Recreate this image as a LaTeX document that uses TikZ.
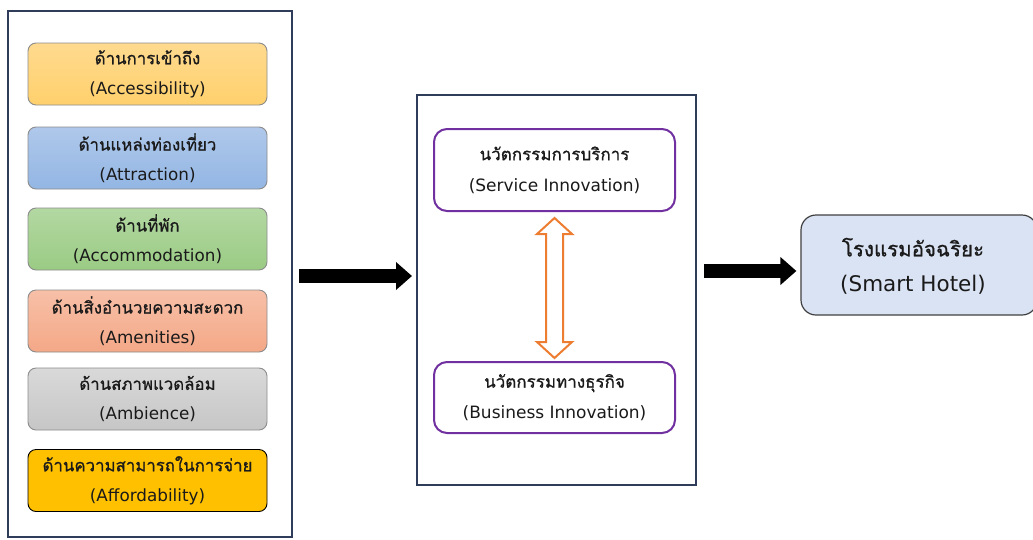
\documentclass[tikz,border=0pt]{standalone}
\usepackage{fontspec}
\setmainfont{DejaVu Sans}
\newfontfamily\thai[Script=Thai,FakeBold=0.9]{Loma}
\usetikzlibrary{arrows.meta,calc}
\definecolor{navy}{HTML}{2F3D5A}
\definecolor{boxgray}{HTML}{8C8C8C}
\definecolor{purp}{HTML}{7030A0}
\definecolor{orng}{HTML}{ED7D31}
\definecolor{hotelfill}{HTML}{DAE3F3}
\definecolor{hotelline}{HTML}{404040}
\definecolor{txt}{HTML}{1A1A1A}
\tikzset{
  frame/.style={draw=navy, line width=2pt, fill=white},
  factor/.style={draw=boxgray, line width=0.9pt, rounded corners=8pt, minimum width=239pt,
    minimum height=62pt, align=center, inner sep=0pt, text=txt,
    font={\fontsize{16.8}{30}\selectfont}},
  innov/.style={draw=purp, line width=2pt, rounded corners=13pt, fill=white, minimum width=241pt,
    align=center, inner sep=0pt, text=txt, font={\fontsize{17}{31}\selectfont}},
  bigarrow/.style={line width=14.5pt, -{Triangle[length=16pt,width=27pt]}},
}
\begin{document}
\begin{tikzpicture}[x=1pt,y=-1pt]
\useasboundingbox (0,0) rectangle (1033,539);
\fill[white] (0,0) rectangle (1033,539);
% left frame
\node[frame, minimum width=284pt, minimum height=526pt, inner sep=0pt] (leftbox) at (150,274) {};
\node[factor, top color={rgb,255:red,255;green,218;blue,143}, bottom color={rgb,255:red,255;green,208;blue,108}] (f1) at (147.5,74) {{\thai ด้านการเข้าถึง}\\(Accessibility)};
\node[factor, top color={rgb,255:red,175;green,200;blue,234}, bottom color={rgb,255:red,147;green,182;blue,228}] (f2) at (147.5,158) {{\thai ด้านแหล่งท่องเที่ยว}\\(Attraction)};
\node[factor, top color={rgb,255:red,179;green,216;blue,162}, bottom color={rgb,255:red,154;green,203;blue,132}] (f3) at (147.5,239) {{\thai ด้านที่พัก}\\(Accommodation)};
\node[factor, top color={rgb,255:red,247;green,192;blue,168}, bottom color={rgb,255:red,244;green,168;blue,135}] (f4) at (147.5,321) {{\thai ด้านสิ่งอำนวยความสะดวก}\\(Amenities)};
\node[factor, top color={rgb,255:red,217;green,217;blue,217}, bottom color={rgb,255:red,198;green,198;blue,198}] (f5) at (147.5,399) {{\thai ด้านสภาพแวดล้อม}\\(Ambience)};
\node[factor, draw=black, fill={rgb,255:red,255;green,192;blue,0}] (f6) at (147.5,480.5) {{\thai ด้านความสามารถในการจ่าย}\\(Affordability)};
% middle frame
\node[frame, minimum width=279pt, minimum height=390pt, inner sep=0pt] (midbox) at (556.5,290) {};
\node[innov, minimum height=82pt] (serv) at (554.5,170) {{\thai นวัตกรรมการบริการ}\\(Service Innovation)};
\node[innov, minimum height=71pt] (bus) at (554.5,397.5) {{\thai นวัตกรรมทางธุรกิจ}\\(Business Innovation)};
% hotel
\node[draw=hotelline, line width=1.2pt, fill=hotelfill, rounded corners=15pt, minimum width=236pt,
  minimum height=100pt, inner sep=0pt] (hotel) at (919,265) {};
\node[align=center, inner sep=0pt, text=txt, font={\fontsize{21.5}{35}\selectfont}] (hoteltext) at (913,266) {{\thai\fontsize{20.5}{35}\selectfont โรงแรมอัจฉริยะ}\\(Smart Hotel)};
% arrows
\coordinate (ay1) at (0,276);
\coordinate (ay2) at (0,271);
\draw[bigarrow, shorten <=6pt, shorten >=4pt] (leftbox.east |- ay1) -- (midbox.west |- ay1);
\draw[bigarrow, shorten <=7pt, shorten >=4pt] (midbox.east |- ay2) -- (hotel.west |- ay2);
% double arrow
\coordinate (dc) at ($(serv.south)!0.5!(bus.north)+(0,1.5)$);
\draw[draw=orng, line width=2pt, fill=white, line join=miter]
  ($(dc)+(0,-70)$) -- ($(dc)+(17.5,-54)$) -- ($(dc)+(8.5,-54)$) -- ($(dc)+(8.5,54)$) -- ($(dc)+(17.5,54)$)
  -- ($(dc)+(0,70)$) -- ($(dc)+(-17.5,54)$) -- ($(dc)+(-8.5,54)$) -- ($(dc)+(-8.5,-54)$) -- ($(dc)+(-17.5,-54)$) -- cycle;
\end{tikzpicture}
\end{document}
